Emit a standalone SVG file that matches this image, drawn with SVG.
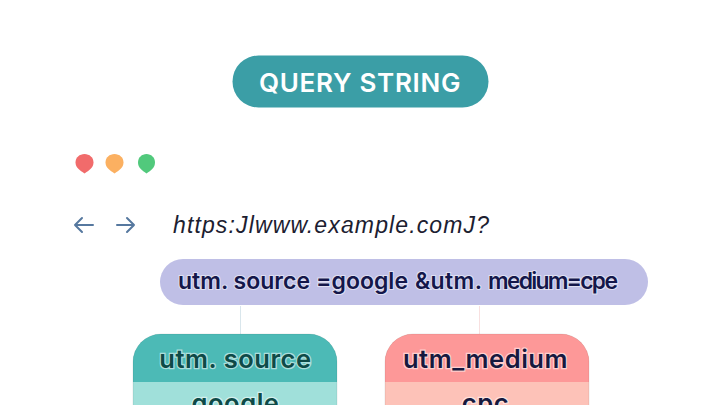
<svg xmlns="http://www.w3.org/2000/svg" width="720" height="405" viewBox="0 0 720 405">
<style>
text{font-family:"Inter","Liberation Sans",sans-serif;text-anchor:middle}
.h{font-size:25.500px;font-weight:600;letter-spacing:.55px;stroke:#fff;stroke-width:2.500px;paint-order:stroke;stroke-opacity:.55}
.q{font-size:23px;font-weight:600;stroke:#fff;stroke-width:2px;paint-order:stroke;stroke-opacity:.5;text-anchor:start}
.a{fill:none;stroke:#56789f;stroke-width:2;stroke-linecap:round;stroke-linejoin:round}
.u{font-family:"Liberation Sans",Arial,sans-serif;font-size:23px;font-style:italic;fill:#1c2030;text-anchor:start}
.e{fill:none;stroke:#000;stroke-opacity:.08}
</style>
<rect width="720" height="405" fill="#fff"/>
<g id="connectors">
<line x1="240.500" y1="306" x2="240.500" y2="334" stroke="#d9e6ec" stroke-width="1"/>
<line x1="479.500" y1="306" x2="479.500" y2="334" stroke="#f8e0e0" stroke-width="1"/>
</g>
<g id="title">
<rect x="232.500" y="55.500" width="256" height="52" rx="26" fill="#3b9ea6"/>
<text x="360" y="92" font-size="26" font-weight="600" fill="#fff" letter-spacing=".7">QUERY STRING</text>
</g>
<g id="window-dots">
<path d="M84.500 154c5 0 9 3.500 9 8.500 0 5-4.500 8-9 11-4.500-3-9-6-9-11 0-5 4-8.500 9-8.500z" fill="#f16b6b"/>
<path d="M114.500 154c5 0 9 3.500 9 8.500 0 5-4.500 8-9 11-4.500-3-9-6-9-11 0-5 4-8.500 9-8.500z" fill="#fbb061"/>
<path d="M146.500 154c4.700 0 8.500 3.500 8.500 8.500 0 5-4 8-8.500 11-4.500-3-8.500-6-8.500-11 0-5 3.800-8.500 8.500-8.500z" fill="#51c97c"/>
</g>
<g id="nav-arrows">
<path class="a" d="M93 225H75M82 218l-7 7 7 7"/>
<path class="a" d="M117 225H134M127 218l7 7-7 7"/>
</g>
<g id="url">
<text class="u" x="173" y="233" textLength="316">https:Jlwww.example.comJ?</text>
</g>
<g id="query">
<rect x="160" y="259" width="488" height="46" rx="23" fill="#bfbfe6"/>
<text class="q" y="289" fill="#14174a"><tspan x="178" textLength="132">utm. source</tspan><tspan x="316" textLength="92">=google</tspan><tspan x="415" textLength="67">&amp;utm.</tspan><tspan x="488" textLength="130">medium=cpe</tspan></text>
</g>
<g id="utm-source">
<path d="M133 405V362a28 28 0 0 1 28-28H309a28 28 0 0 1 28 28V405z" fill="#a0e0da"/>
<path d="M133 382V362a28 28 0 0 1 28-28H309a28 28 0 0 1 28 28V382z" fill="#4cbab6"/>
<path class="e" d="M133 405V362a28 28 0 0 1 28-28H309a28 28 0 0 1 28 28V405"/>
<text class="h" x="235.500" y="368" fill="#0e4a47">utm. source</text>
<text class="h" x="235.500" y="412" fill="#0e4a47">google</text>
</g>
<g id="utm-medium">
<path d="M385 405V362a28 28 0 0 1 28-28H561a28 28 0 0 1 28 28V405z" fill="#fdc2b8"/>
<path d="M385 382V362a28 28 0 0 1 28-28H561a28 28 0 0 1 28 28V382z" fill="#fd9898"/>
<path class="e" d="M385 405V362a28 28 0 0 1 28-28H561a28 28 0 0 1 28 28V405"/>
<text class="h" x="485.500" y="368" fill="#16193f">utm_medium</text>
<text class="h" x="485.500" y="412" fill="#16193f">cpc</text>
</g>
</svg>
